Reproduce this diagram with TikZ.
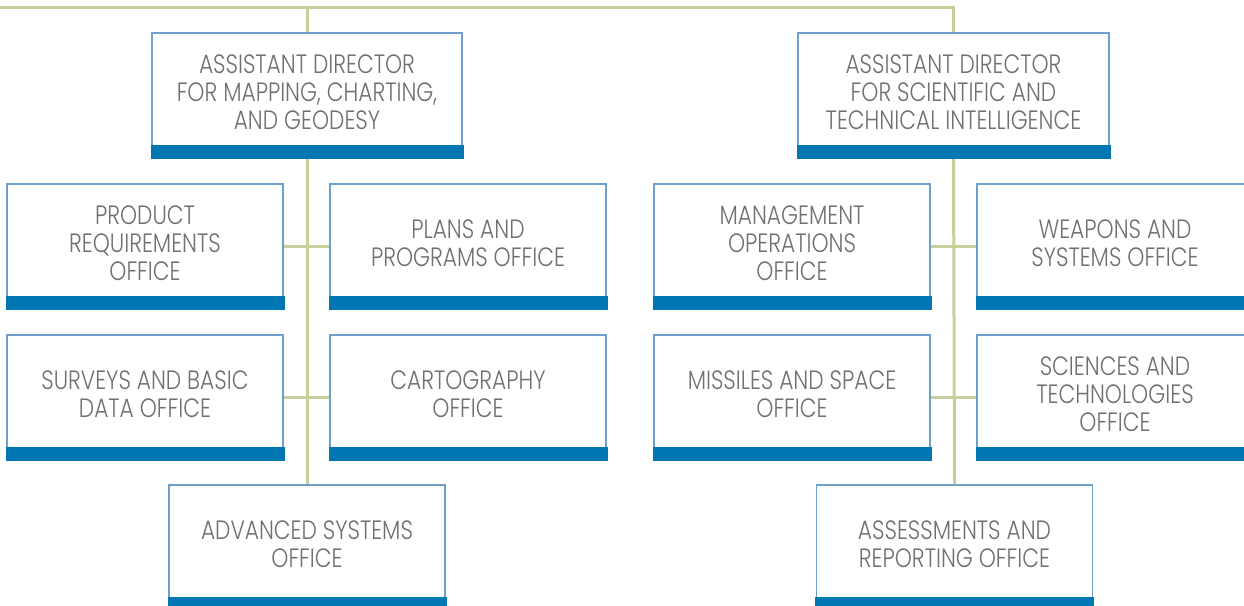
\documentclass[tikz,border=0pt]{standalone}
\usepackage{fontspec}
\setmainfont{Poppins Light}[FakeStretch=0.82]
\definecolor{linegreen}{HTML}{C5D19B}
\definecolor{boxblue}{HTML}{6FA0CC}
\definecolor{barblue}{HTML}{0077B2}
\definecolor{txtgray}{HTML}{707070}
\tikzset{
  orgbox/.style={draw=boxblue, line width=1.5pt, fill=white, align=center,
    text=txtgray, font=\fontsize{26.5}{28}\selectfont, inner sep=0pt, text depth=6pt,
    minimum width=#1, minimum height=124pt},
  orgbox/.default=276pt,
  conn/.style={draw=linegreen, line width=3pt}
}
\newcommand{\orgbar}[1]{\fill[barblue] ([xshift=-0.75pt,yshift=-0.75pt]#1.south west) rectangle ([xshift=0.75pt,yshift=13pt]#1.south east);}
\begin{document}
\begin{tikzpicture}[x=1pt,y=-1pt]
\useasboundingbox (0,0) rectangle (1244,605);
\clip (0,0) rectangle (1244,605);
\coordinate (topL) at (0,7);
\coordinate (jl) at (307,7);
\coordinate (jr) at (953.5,7);
\path[conn] (topL) -- (jr) -- (953.5,40);
\path[conn] (jl) -- (307,40);
\node[orgbox=310pt] (adl) at (307,95) {ASSISTANT DIRECTOR\\FOR MAPPING, CHARTING,\\AND GEODESY};
\node[orgbox=311pt] (adr) at (953.5,95) {ASSISTANT DIRECTOR\\FOR SCIENTIFIC AND\\TECHNICAL INTELLIGENCE};
\node[orgbox] (pr) at (145,246) {PRODUCT\\REQUIREMENTS\\OFFICE};
\node[orgbox] (pp) at (468,246) {PLANS AND\\PROGRAMS OFFICE};
\node[orgbox] (sb) at (145,397) {SURVEYS AND BASIC\\DATA OFFICE};
\node[orgbox] (ca) at (468,397) {CARTOGRAPHY\\OFFICE};
\node[orgbox] (as) at (307,547) {ADVANCED SYSTEMS\\OFFICE};
\node[orgbox] (mo) at (792,246) {MANAGEMENT\\OPERATIONS\\OFFICE};
\node[orgbox] (ws) at (1115,246) {WEAPONS AND\\SYSTEMS OFFICE};
\node[orgbox] (ms) at (792,397) {MISSILES AND SPACE\\OFFICE};
\node[orgbox] (st) at (1115,397) {SCIENCES AND\\TECHNOLOGIES\\OFFICE};
\node[orgbox] (ar) at (954.5,547) {ASSESSMENTS AND\\REPORTING OFFICE};
\path[conn] (adl.south) -- (as.north);
\path[conn] (pr.east) -- (pp.west);
\path[conn] (sb.east) -- (ca.west);
\path[conn] (adr.south) -- (ar.north);
\path[conn] (mo.east) -- (ws.west);
\path[conn] (ms.east) -- (st.west);
\foreach \n in {adl,adr,pr,pp,sb,ca,as,mo,ws,ms,st,ar} {\orgbar{\n}}
\end{tikzpicture}
\end{document}
